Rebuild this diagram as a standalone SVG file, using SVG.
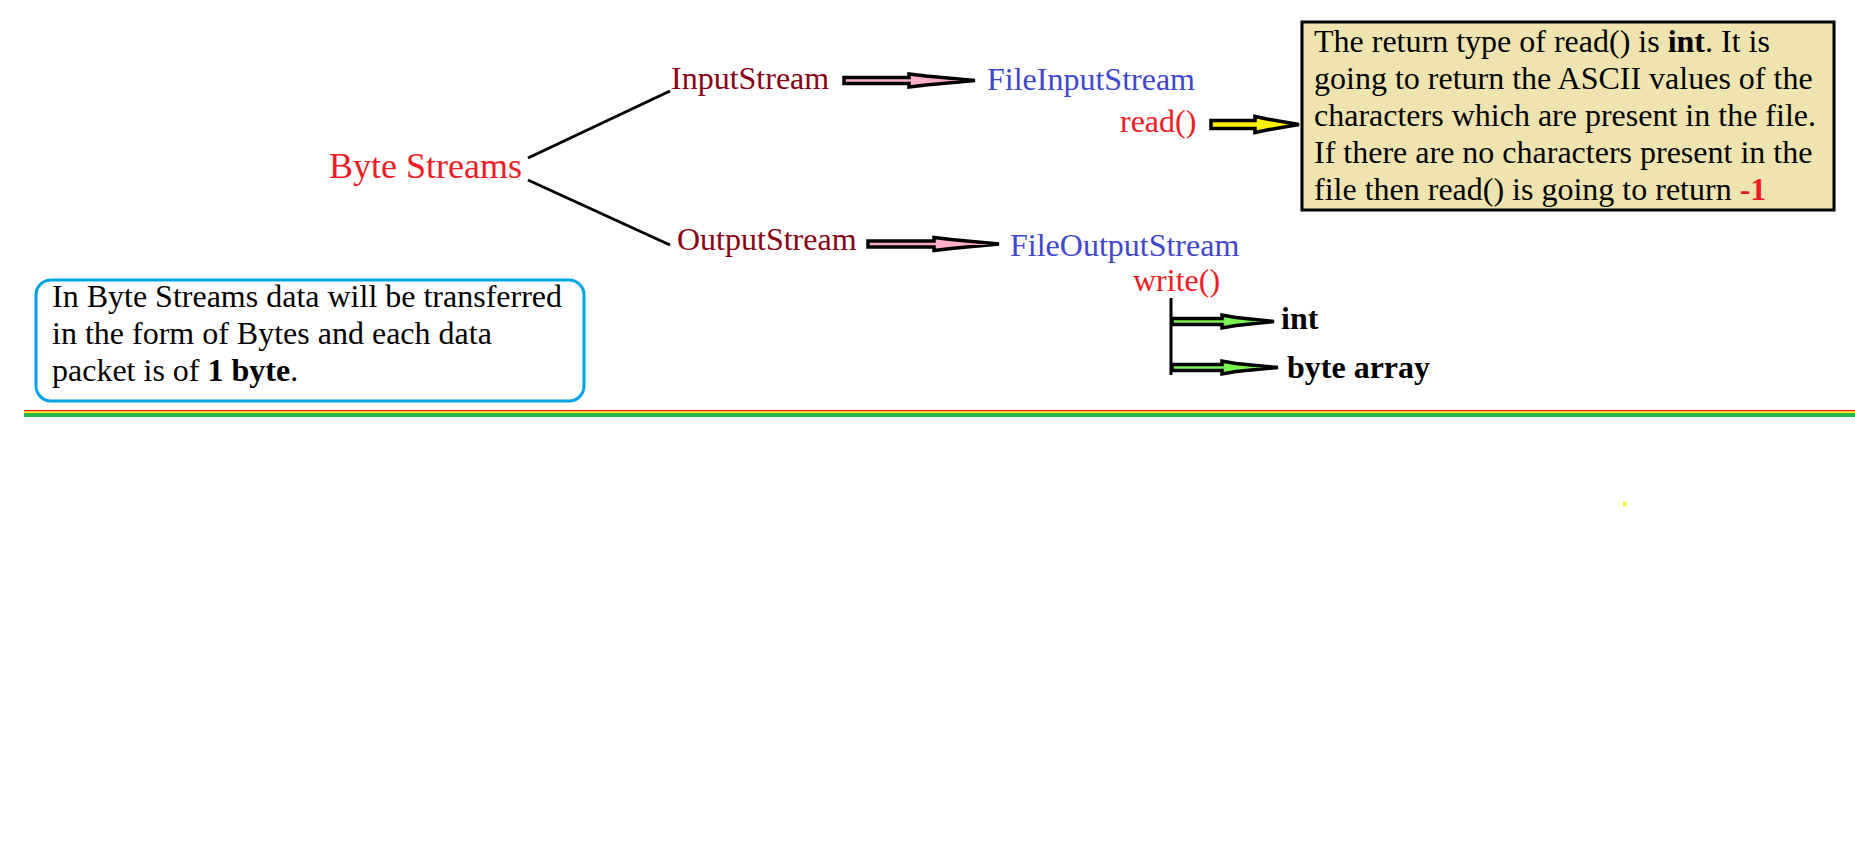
<svg xmlns="http://www.w3.org/2000/svg" width="1855" height="860" viewBox="0 0 1855 860">
<style>
text{font-family:"Liberation Serif","Times New Roman",serif;font-size:32px}
.dr{fill:#880015}
.bl{fill:#3F48CC}
.rd{fill:#ED1C24}
.bk{fill:#000}
.b{font-weight:bold}
.arr{stroke:#000;stroke-width:3.5;stroke-linejoin:miter;stroke-miterlimit:4}
.pink{fill:#FFAEC9}
.yel{fill:#FFF200}
.grn{fill:#7DF052}
</style>
<rect width="1855" height="860" fill="#fff"/>
<g id="connectors">
<line x1="528" y1="158" x2="670" y2="91" stroke="#000" stroke-width="3"/>
<line x1="528" y1="180" x2="670" y2="245" stroke="#000" stroke-width="3"/>
<path class="arr pink" d="M844,77.5 L909,77.5 L909,74 L926,76 L975,80.5 L926,85 L909,87 L909,83.5 L844,83.5 Z"/>
<path class="arr pink" d="M868,241 L934,241 L934,237.5 L951,239.5 L999,244 L951,248.5 L934,250.5 L934,247 L868,247 Z"/>
<path class="arr yel" d="M1211,120.5 L1255,120.5 L1255,116.5 L1267,119 L1299,124.5 L1267,130 L1255,132.5 L1255,128.5 L1211,128.5 Z"/>
<line x1="1171" y1="298" x2="1171" y2="375" stroke="#000" stroke-width="3"/>
<path class="arr grn" d="M1172,318.5 L1222,318.5 L1222,315 L1236,317.5 L1274,321.5 L1236,325.5 L1222,328 L1222,324.5 L1172,324.5 Z"/>
<path class="arr grn" d="M1172,364.5 L1222,364.5 L1222,361 L1236,363.5 L1278,367.5 L1236,371.5 L1222,374 L1222,370.5 L1172,370.5 Z"/>
</g>
<g id="byte-streams"><text x="329" y="178" class="rd" style="font-size:36px">Byte Streams</text></g>
<g id="input-stream"><text x="671" y="89" class="dr">InputStream</text></g>
<g id="output-stream"><text x="677" y="250" class="dr">OutputStream</text></g>
<g id="file-input-stream"><text x="987" y="90" class="bl">FileInputStream</text></g>
<g id="file-output-stream"><text x="1010" y="256" class="bl">FileOutputStream</text></g>
<g id="read"><text x="1120" y="132" class="rd">read()</text></g>
<g id="write"><text x="1133" y="291" class="rd">write()</text></g>
<g id="int"><text x="1281" y="329" class="bk b">int</text></g>
<g id="byte-array"><text x="1287" y="378" class="bk b">byte array</text></g>
<g id="read-note">
<rect x="1302" y="22" width="532" height="188" fill="#EFE4B0" stroke="#000" stroke-width="3"/>
<text x="1314" y="52" class="bk">The return type of read() is <tspan class="b">int</tspan>. It is</text>
<text x="1314" y="89" class="bk">going to return the ASCII values of the</text>
<text x="1314" y="126" class="bk">characters which are present in the file.</text>
<text x="1314" y="163" class="bk">If there are no characters present in the</text>
<text x="1314" y="200" class="bk">file then read() is going to return <tspan class="b rd">-1</tspan></text>
</g>
<g id="byte-note">
<rect x="36" y="280" width="548" height="121" rx="15" fill="#fff" stroke="#00A2E8" stroke-width="3"/>
<text x="52" y="307" class="bk">In Byte Streams data will be transferred</text>
<text x="52" y="344" class="bk">in the form of Bytes and each data</text>
<text x="52" y="381" class="bk">packet is of <tspan class="b">1 byte</tspan>.</text>
</g>
<g id="rule">
<rect x="24" y="410" width="1831" height="1.5" fill="#ED1C24"/>
<rect x="24" y="411.5" width="1831" height="1.5" fill="#FFF200"/>
<rect x="24" y="413" width="1831" height="4" fill="#22B14C"/>
</g>
<rect x="1623" y="502" width="3" height="4" fill="#FFF200"/>
</svg>
